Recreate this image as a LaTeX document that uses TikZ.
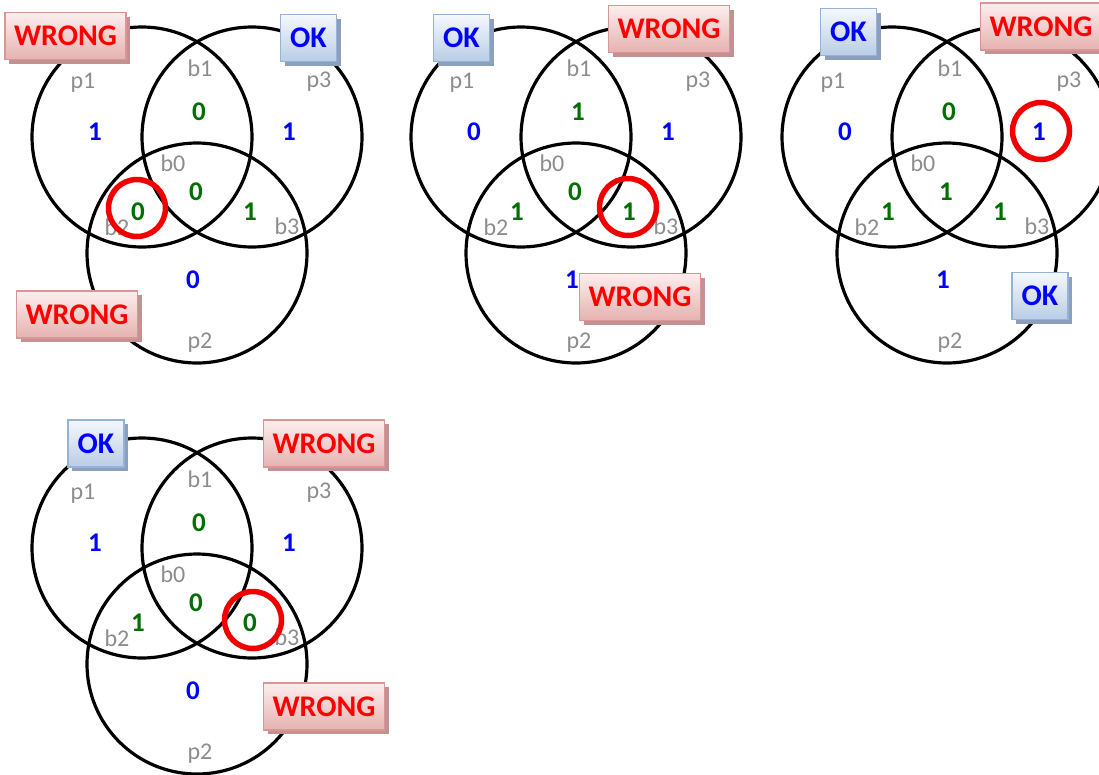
\documentclass[tikz,border=0pt]{standalone}
\usepackage{fontspec}
\setmainfont{Carlito}
\usetikzlibrary{shadows}
\definecolor{numblue}{RGB}{0,0,255}
\definecolor{numgreen}{RGB}{0,110,0}
\definecolor{lblgray}{RGB}{140,140,140}
\definecolor{wrongborder}{RGB}{217,150,148}
\definecolor{wrongtop}{RGB}{252,238,238}
\definecolor{wrongbot}{RGB}{230,178,176}
\definecolor{wrongshadow}{RGB}{195,145,145}
\definecolor{okborder}{RGB}{149,179,215}
\definecolor{oktop}{RGB}{244,248,253}
\definecolor{okbot}{RGB}{185,205,229}
\definecolor{okshadow}{RGB}{140,160,190}
\definecolor{markred}{RGB}{240,0,0}
\tikzset{
  venncircle/.style={circle, draw=black, line width=3.2pt, minimum size=220pt, inner sep=0pt},
  numtxt/.style={font=\fontsize{27}{27}\selectfont\bfseries, inner sep=0pt},
  pval/.style={numtxt, text=numblue},
  bval/.style={numtxt, text=numgreen},
  regionlbl/.style={font=\fontsize{24}{24}\selectfont, text=lblgray, inner sep=0pt},
  tagbox/.style={line width=1.5pt, font=\fontsize{30}{30}\selectfont\bfseries,
    minimum height=47pt, inner sep=0pt},
  wrongbox/.style={tagbox, draw=wrongborder, top color=wrongtop, bottom color=wrongbot,
    text=red, minimum width=121pt,
    drop shadow={shadow xshift=4pt, shadow yshift=-4pt, fill=wrongshadow, opacity=1}},
  okbox/.style={tagbox, draw=okborder, top color=oktop, bottom color=okbot,
    text=numblue, minimum width=56pt,
    drop shadow={shadow xshift=4pt, shadow yshift=-4pt, fill=okshadow, opacity=1}},
  errmark/.style={circle, draw=markred, line width=5.5pt, minimum size=57pt, inner sep=0pt}
}
% values: p1, b1, p3, b0, b2, b3, p2
\newcommand\VennBody[7]{%
  \node[venncircle] (cp1) at (142,137) {};
  \node[venncircle] (cp3) at (252,137) {};
  \node[venncircle] (cp2) at (197,253) {};
  \node[regionlbl] (lp1) at (83,83) {p1};
  \node[regionlbl] (lb1) at (200,68) {b1};
  \node[regionlbl] (lp3) at (319,82) {p3};
  \node[regionlbl] (lb0) at (173,163) {b0};
  \node[regionlbl] (lb2) at (117,227) {b2};
  \node[regionlbl] (lb3) at (287,226) {b3};
  \node[regionlbl] (lp2) at (200,343) {p2};
  \node[pval] (vp1) at (95,131.5) {#1};
  \node[bval] (vb1) at (199,112) {#2};
  \node[pval] (vp3) at (289,131.5) {#3};
  \node[bval] (vb0) at (196,192) {#4};
  \node[bval] (vb2) at (138,211.5) {#5};
  \node[bval] (vb3) at (250,211.5) {#6};
  \node[pval] (vp2) at (193,280) {#7};
}
\begin{document}
\begin{tikzpicture}[x=1pt, y=-1pt]
\useasboundingbox (0,0) rectangle (1099,774);
% diagram 1
\begin{scope}[name prefix=d1-]
  \VennBody{1}{0}{1}{0}{0}{1}{0}
  \node[wrongbox] (w1) at (65.5,36) {WRONG};
  \node[okbox] (ok1) at (308.5,38) {OK};
  \node[wrongbox] (w2) at (77,314.5) {WRONG};
  \node[errmark] (m) at (137,208) {};
\end{scope}
% diagram 2
\begin{scope}[shift={(379,0)}, name prefix=d2-]
  \VennBody{0}{1}{1}{0}{1}{1}{1}
  \node[okbox] (ok1) at (82.5,38) {OK};
  \node[wrongbox] (w1) at (290,29) {WRONG};
  \node[wrongbox] (w2) at (261,297) {WRONG};
  \node[errmark] (m) at (249,207) {};
\end{scope}
% diagram 3
\begin{scope}[shift={(750,0)}, name prefix=d3-]
  \VennBody{0}{0}{1}{1}{1}{1}{1}
  \node[okbox] (ok1) at (98.5,32) {OK};
  \node[wrongbox] (w1) at (291,26.5) {WRONG};
  \node[okbox] (ok2) at (290,296) {OK};
  \node[errmark] (m) at (291,131) {};
\end{scope}
% diagram 4
\begin{scope}[shift={(0,411)}, name prefix=d4-]
  \VennBody{1}{0}{1}{0}{1}{0}{0}
  \node[okbox] (ok1) at (96,32.5) {OK};
  \node[wrongbox] (w1) at (324,32.5) {WRONG};
  \node[wrongbox] (w2) at (324,295.5) {WRONG};
  \node[errmark] (m) at (253,209) {};
\end{scope}
\end{tikzpicture}
\end{document}
